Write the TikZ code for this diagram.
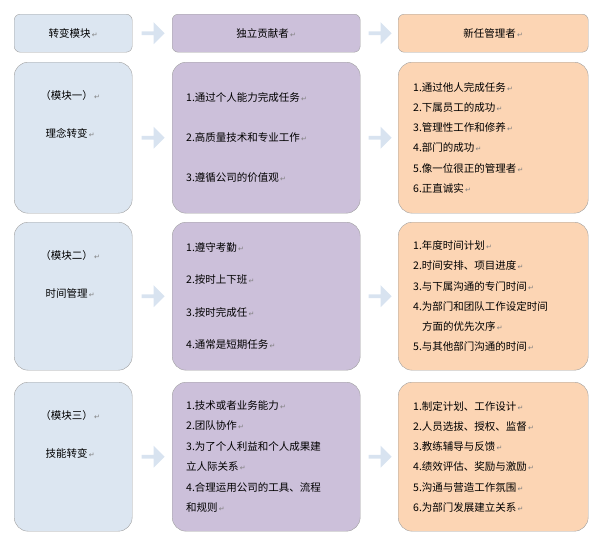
\documentclass[tikz,border=0pt]{standalone}
\usepackage{fontspec}
\setmainfont{Noto Sans CJK SC}
\newfontfamily\symfont{DejaVu Sans}
\usetikzlibrary{positioning,shapes.arrows,calc}
\definecolor{modblue}{HTML}{DCE6F1}
\definecolor{icpurple}{HTML}{CCC0DA}
\definecolor{mgrpeach}{HTML}{FCD5B4}
\definecolor{boxline}{HTML}{A0A0A0}
\definecolor{arrowblue}{HTML}{D8E3F0}
\newcommand{\parmark}{{\symfont\color{gray}\fontsize{7}{7}\selectfont\,↵}}
\tikzset{
  cell/.style={draw=boxline, rounded corners=14pt, minimum height=#1, anchor=north west, inner sep=0pt},
  cell/.default=151pt,
  hdr/.style={draw=boxline, rounded corners=6pt, minimum height=38pt, anchor=north west, inner sep=0pt},
  cellt/.style={font=\fontsize{10.5}{#1}\selectfont, align=left, anchor=west, inner sep=0pt},
  blk/.style={single arrow, fill=arrowblue, minimum width=22pt, minimum height=23pt, single arrow head extend=1pt, single arrow head indent=0pt, inner sep=0pt}
}
\begin{document}
\begin{tikzpicture}[x=1pt,y=-1pt]
\useasboundingbox (0,0) rectangle (604,546);
% header row
\node[hdr, fill=modblue, minimum width=118pt] (h1) at (14,14) {};
\node[hdr, fill=icpurple, minimum width=188pt] (h2) at (172,14) {};
\node[hdr, fill=mgrpeach, minimum width=190pt] (h3) at (398,14) {};
\node[font=\fontsize{10.5}{12}\selectfont] at (h1) {转变模块\parmark};
\node[font=\fontsize{10.5}{12}\selectfont] at (h2) {独立贡献者\parmark};
\node[font=\fontsize{10.5}{12}\selectfont] at (h3) {新任管理者\parmark};
% body boxes
\foreach \r/\y/\h in {1/62/151pt, 2/222/148pt, 3/382/149pt} {
  \node[cell=\h, fill=modblue, minimum width=118pt] (a\r) at (14,\y) {};
  \node[cell=\h, fill=icpurple, minimum width=188pt] (b\r) at (172,\y) {};
  \node[cell=\h, fill=mgrpeach, minimum width=190pt] (c\r) at (398,\y) {};
}
% arrows
\foreach \l/\r in {h1/h2, h2/h3, a1/b1, b1/c1, a2/b2, b2/c2, a3/b3, b3/c3}
  \node[blk] at ($(\l.east)!0.5!(\r.west)$) {};
% module column
\foreach \r/\n/\t in {1/一/理念转变, 2/二/时间管理, 3/三/技能转变}
  \node[font=\fontsize{10.5}{38}\selectfont, align=center, anchor=north] (m\r) at ([xshift=-3pt,yshift=-25pt]a\r.north) {（模块\n）\parmark\\\t\parmark};
% individual contributor column
\node[cellt=40] (t1) at ([xshift=14pt]b1.west) {1.通过个人能力完成任务\parmark\\2.高质量技术和专业工作\parmark\\3.遵循公司的价值观\parmark};
\node[cellt=32.5] (t2) at ([xshift=14pt]b2.west) {1.遵守考勤\parmark\\2.按时上下班\parmark\\3.按时完成任\parmark\\4.通常是短期任务\parmark};
\node[cellt=20.5] (t3) at ([xshift=14pt]b3.west) {1.技术或者业务能力\parmark\\2.团队协作\parmark\\3.为了个人利益和个人成果建\\立人际关系\parmark\\4.合理运用公司的工具、流程\\和规则\parmark};
% new manager column
\node[cellt=20.2] (u1) at ([xshift=15pt]c1.west) {1.通过他人完成任务\parmark\\2.下属员工的成功\parmark\\3.管理性工作和修养\parmark\\4.部门的成功\parmark\\5.像一位很正的管理者\parmark\\6.正直诚实\parmark};
\node[cellt=20.2] (u2) at ([xshift=15pt]c2.west) {1.年度时间计划\parmark\\2.时间安排、项目进度\parmark\\3.与下属沟通的专门时间\parmark\\4.为部门和团队工作设定时间\\\hspace*{9pt}方面的优先次序\parmark\\5.与其他部门沟通的时间\parmark};
\node[cellt=20.2] (u3) at ([xshift=15pt]c3.west) {1.制定计划、工作设计\parmark\\2.人员选拔、授权、监督\parmark\\3.教练辅导与反馈\parmark\\4.绩效评估、奖励与激励\parmark\\5.沟通与营造工作氛围\parmark\\6.为部门发展建立关系\parmark};
\end{tikzpicture}
\end{document}
